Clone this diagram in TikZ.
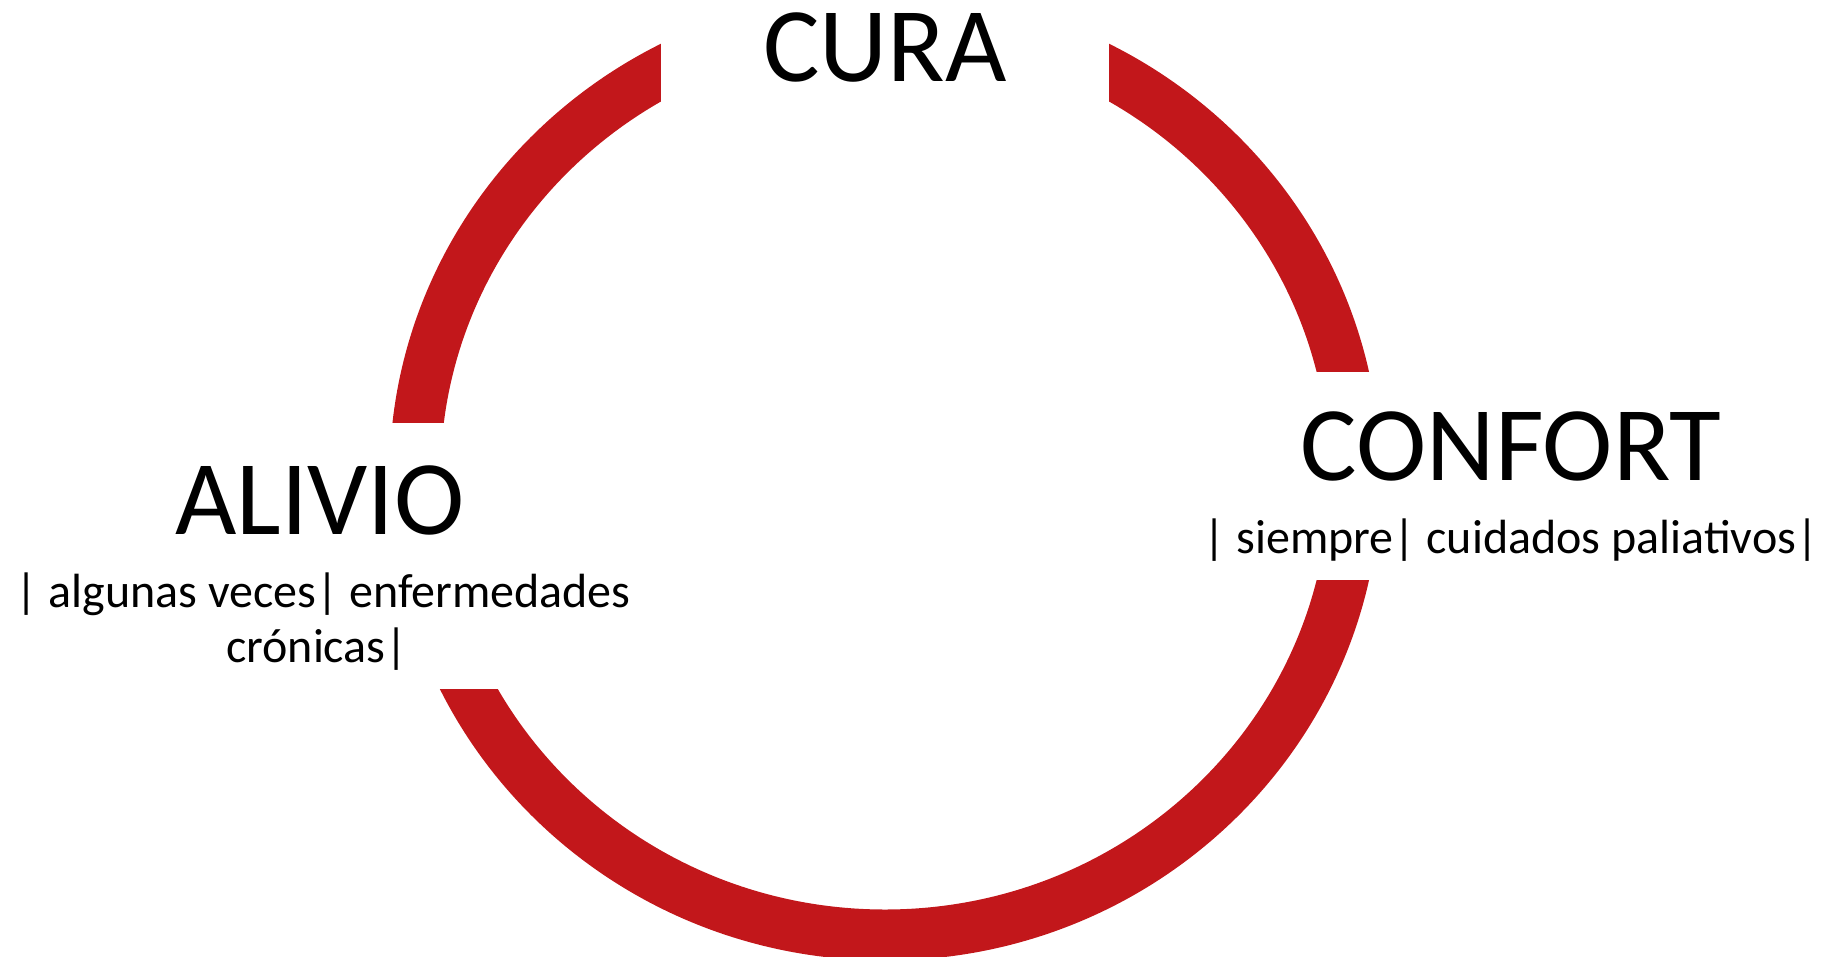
\documentclass[tikz,border=0pt]{standalone}
\usepackage{fontspec}
\setmainfont{Carlito}
\definecolor{ringred}{RGB}{194,23,27}
\begin{document}
\begin{tikzpicture}[x=1pt,y=-1pt,
  bigtxt/.style={font=\fontsize{106}{128}\selectfont, inner sep=0pt, anchor=base},
  smalltxt/.style={font=\fontsize{48}{58}\selectfont, inner sep=0pt, anchor=base},
  gap/.style={fill=white, draw=none}]
\clip (0,0) rectangle (1827,957);
\useasboundingbox (0,0) rectangle (1827,957);
% ring
\draw[ringred, line width=51pt] (885,476) ellipse [x radius=470pt, y radius=459pt];
% gaps
\fill[gap] (661,-30) rectangle (1109,125);
\fill[gap] (1290,371.7) rectangle (1410,580);
\fill[gap] (360,423.3) rectangle (520,689);
% labels
\node[bigtxt] (cura) at (885,82) {CURA};
\node[bigtxt] (alivio) at (320,534) {ALIVIO};
\node[smalltxt] (aliviosub) at (323,607) {| algunas veces| enfermedades};
\node[smalltxt] (aliviosubb) at (317,662) {crónicas|};
\node[bigtxt] (confort) at (1511,480) {CONFORT};
\node[smalltxt] (confortsub) at (1511,553) {| siempre| cuidados paliativos|};
\end{tikzpicture}
\end{document}
